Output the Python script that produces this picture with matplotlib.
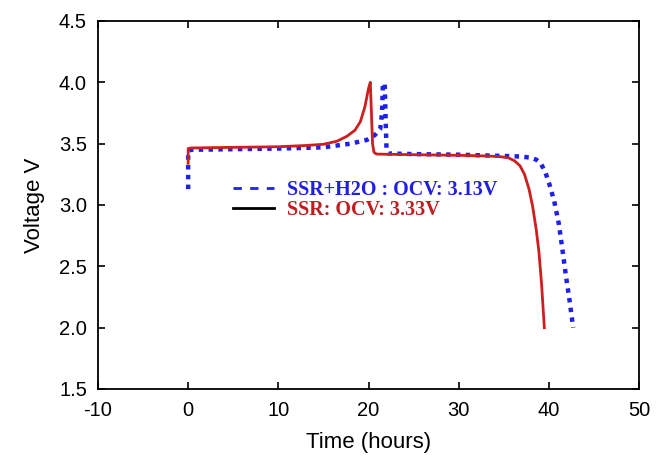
import numpy as np
import matplotlib.pyplot as plt
from matplotlib.lines import Line2D

plt.rcParams['axes.unicode_minus'] = False

# SSR (red solid)
ssr_t = [0.0, 0.0, 0.3, 5, 10, 13, 15, 16.5, 17.6, 18.5, 19.1, 19.6, 20.0, 20.2,
         20.3, 20.45, 20.6, 20.9, 25, 30, 33, 34.5, 35.5, 36.2, 36.8, 37.3, 37.8,
         38.2, 38.6, 38.9, 39.2, 39.5]
ssr_v = [3.34, 3.46, 3.465, 3.47, 3.475, 3.485, 3.495, 3.52, 3.56, 3.61, 3.68, 3.80, 3.95, 4.00,
         3.80, 3.50, 3.43, 3.415, 3.41, 3.405, 3.40, 3.395, 3.385, 3.36, 3.32, 3.25, 3.13,
         2.99, 2.80, 2.62, 2.35, 2.00]

# SSR+H2O (blue dotted)
h2o_t = [0.0, 0.0, 0.3, 5, 10, 15, 18, 19.8, 20.7, 21.3, 21.5, 21.6, 21.8, 21.9, 22.0, 22.2,
         25, 30, 35, 37, 38, 38.6, 39.1, 39.6, 40.1, 40.6, 41.1, 41.5, 41.9, 42.3, 42.7]
h2o_v = [3.13, 3.44, 3.45, 3.455, 3.46, 3.47, 3.50, 3.53, 3.57, 3.62, 3.75, 3.99, 3.99, 3.70, 3.45, 3.42,
         3.415, 3.41, 3.40, 3.395, 3.385, 3.37, 3.34, 3.27, 3.16, 3.03, 2.85, 2.64, 2.42, 2.22, 2.00]

fig = plt.figure(figsize=(6.63, 4.59), dpi=100)
ax = fig.add_axes([98 / 663, 1 - 389 / 459, 541 / 663, 368 / 459])

ax.plot(h2o_t, h2o_v, color='#1f1fee', linestyle=(0, (1, 1.2)), linewidth=3.2)
ax.plot(ssr_t, ssr_v, color='#cc1f1f', linewidth=2)

ax.set_xlim(-10, 50)
ax.set_ylim(1.5, 4.5)
ax.set_xticks(np.arange(-10, 51, 10))
ax.set_yticks(np.arange(1.5, 4.51, 0.5))
ax.set_yticklabels([f'{v:.1f}' for v in np.arange(1.5, 4.51, 0.5)])
ax.tick_params(direction='in', top=True, right=True, length=5, width=1.2,
               labelsize=14.5)
ax.tick_params(axis='x', pad=9)
ax.tick_params(axis='y', pad=8)
for sp in ax.spines.values():
    sp.set_linewidth(1.3)

for lab in ax.get_xticklabels() + ax.get_yticklabels():
    lab.set_family('Liberation Sans')

ax.set_xlabel('Time (hours)', fontsize=16, family='Liberation Sans', labelpad=8)
ax.set_ylabel('Voltage V', fontsize=16, family='Liberation Sans', labelpad=10)

handles = [Line2D([], [], color='#1f1fee', linestyle=(0, (3, 3)), linewidth=2),
           Line2D([], [], color='black', linewidth=2)]
labels = ['SSR+H2O : OCV: 3.13V', 'SSR: OCV: 3.33V']
leg = ax.legend(handles, labels, loc='upper left', bbox_to_anchor=(0.25, 0.568),
                frameon=False, borderpad=0, handlelength=2.0, handletextpad=0.65,
                labelspacing=0.0, borderaxespad=0,
                prop={'family': 'Liberation Serif', 'weight': 'bold', 'size': 14.5})
leg.get_texts()[0].set_color('#2020dd')
leg.get_texts()[1].set_color('#bb1f1f')

fig.savefig('out.png', dpi=100)
